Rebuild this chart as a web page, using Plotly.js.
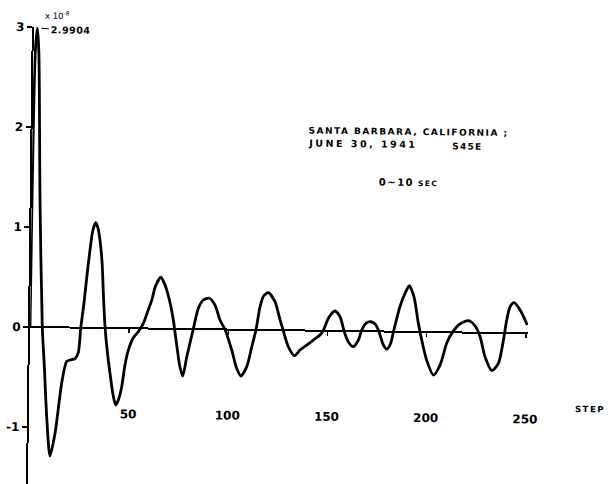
<!DOCTYPE html>
<html>
<head>
<meta charset="utf-8">
<script src="https://cdn.plot.ly/plotly-3.0.1.min.js"></script>
<style>
  html, body { margin: 0; padding: 0; background: #fff; overflow: hidden; }
  /* the drafted sheet sits a little off square */
  #chart { width: 608px; height: 484px; transform-origin: 30px 327px; transform: rotate(0.73deg); }
</style>
</head>
<body>
<div id="chart"></div>
<script>
// Response amplitude (x 10^-8) against step number, Santa Barbara record S45E, 0~10 sec
const steps = [
  0, 0.9, 1.8, 2.7, 4.2, 6.2, 7.5, 9.0, 10.9,
  13.3, 16.3, 18.7, 20.4, 22.9, 24.5, 25.6, 27.05, 28.4, 29.75, 31.1, 32.5,
  33.6, 34.7, 35.9, 36.8, 37.8, 39.2, 40.6, 42.3, 43.7, 45.0, 46.6, 48.1,
  49.7, 52.1, 54.6, 57.1, 59.1, 61.2, 63.0, 65.6, 67.8, 69.4, 70.7, 72.2,
  73.9, 75.8, 77.3, 79.2, 82.3, 84.7, 87.2, 90.2, 93.1, 95.7, 98.3, 101.8,
  104.4, 106.6, 109.5, 111.9, 113.9, 115.8, 117.5, 119.9, 123.3, 126.0,
  127.7, 130.3, 133.4, 136.2, 139.6, 142.9, 146.2, 147.7, 150.6, 153.6,
  156.2, 158.4, 160.5, 163.0, 165.6, 167.2, 169.3, 171.7, 173.9, 175.6,
  178.2, 180.0, 181.9, 183.2, 186.3, 188.8, 190.9, 193.3, 195.7, 197.5,
  200.1, 203.6, 206.9, 210.1, 212.6, 216.7, 220.9, 224.3, 226.9, 229.5,
  233.0, 236.3, 238.7, 240.2, 241.8, 243.8, 246.9, 250.6
];
const amplitude = [
  0, 2.75, 2.9904, 2.75, 1.3, 0.0, -0.40, -0.90, -1.287,
  -1.06, -0.56, -0.34, -0.325, -0.31, -0.25, 0.0, 0.247, 0.527, 0.778, 0.978, 1.051,
  0.999, 0.879, 0.659, 0.329, 0.013, -0.25, -0.45, -0.67, -0.77, -0.719, -0.585, -0.368,
  -0.218, -0.097, -0.033, 0.051, 0.165, 0.285, 0.426, 0.514, 0.437, 0.338, 0.238, 0.088,
  -0.141, -0.378, -0.47, -0.277, 0.0, 0.208, 0.292, 0.31, 0.243, 0.094, 0.0, -0.204,
  -0.387, -0.463, -0.369, -0.169, 0.0, 0.232, 0.34, 0.373, 0.284, 0.102,
  -0.005, -0.164, -0.253, -0.196, -0.145, -0.094, -0.043, -0.003, 0.135, 0.199,
  0.142, -0.007, -0.107, -0.156, -0.088, 0.012, 0.08, 0.096, 0.074, 0.014,
  -0.135, -0.175, -0.117, -0.001, 0.25, 0.385, 0.461, 0.352, 0.086, -0.08,
  -0.28, -0.429, -0.328, -0.11, -0.01, 0.085, 0.119, 0.067, -0.04, -0.239,
  -0.378, -0.304, -0.07, 0.13, 0.264, 0.305, 0.232, 0.083
];

const peakStep = 1.8;
const peakValue = 2.9904;

const xTickVals = [50, 100, 150, 200, 250];
const xTickText = ['50', '100', '150', '200', '250'];
const yTickVals = [-1, 0, 1, 2, 3];
const yTickText = ['-1', '0', '1', '2', '3'];

const stationLine = 'SANTA BARBARA, CALIFORNIA ;';
const dateLine = 'JUNE 30, 1941';
const componentLabel = 'S45E';
const windowLabel = '0~10';
const windowUnit = 'SEC';
const scaleLabel = 'x 10<sup>-8</sup>';
const xAxisLabel = 'STEP';

const FONT = 'DejaVu Sans, Liberation Sans, sans-serif';
const INK = '#000';

const yMin = -1.57, yMax = 3.0;
const xMax = 251;

const trace = {
  x: steps,
  y: amplitude,
  type: 'scatter',
  mode: 'lines',
  line: { color: INK, width: 2.8, shape: 'spline', smoothing: 0.7 },
  hoverinfo: 'skip',
  cliponaxis: false
};

// empty companion trace so the tick-only axis along the zero line gets drawn
const tickCarrier = {
  x: [], y: [], type: 'scatter', mode: 'lines',
  xaxis: 'x2', yaxis: 'y', hoverinfo: 'skip', showlegend: false
};

const layout = {
  width: 608,
  height: 484,
  margin: { l: 30, r: 80, t: 27, b: 0 },
  paper_bgcolor: '#fff',
  plot_bgcolor: '#fff',
  showlegend: false,
  xaxis: {
    range: [0, xMax],
    anchor: 'free',
    position: 0.175,
    showline: false,
    ticks: '',
    tickvals: xTickVals,
    ticktext: xTickText,
    tickfont: { family: FONT, size: 12, color: INK, weight: 'bold' },
    showgrid: false,
    zeroline: false,
    fixedrange: true
  },
  xaxis2: {
    range: [0, xMax],
    overlaying: 'x',
    anchor: 'free',
    position: (0 - yMin) / (yMax - yMin),
    side: 'bottom',
    ticks: 'outside',
    ticklen: 4,
    tickwidth: 1.5,
    tickcolor: INK,
    tickvals: xTickVals,
    showticklabels: false,
    showline: false,
    showgrid: false,
    zeroline: false,
    fixedrange: true
  },
  yaxis: {
    range: [yMin, yMax],
    showline: true,
    linecolor: INK,
    linewidth: 2,
    ticks: 'outside',
    ticklen: 5,
    tickwidth: 1.5,
    tickcolor: INK,
    tickvals: yTickVals,
    ticktext: yTickText,
    tickfont: { family: FONT, size: 12, color: INK, weight: 'bold' },
    showgrid: false,
    zeroline: true,
    zerolinecolor: INK,
    zerolinewidth: 2,
    fixedrange: true
  },
  annotations: [
    {
      x: 0.018, y: 1.0267, xref: 'paper', yref: 'paper',
      text: scaleLabel, showarrow: false, xanchor: 'left', yanchor: 'middle',
      font: { family: FONT, size: 8.5, color: INK }
    },
    {
      x: peakStep, y: peakValue, xref: 'x', yref: 'y',
      text: '<span style="letter-spacing:0.5px">2.9904</span>',
      showarrow: true, arrowhead: 0, arrowwidth: 1, arrowcolor: INK,
      ax: 33, ay: 2, standoff: 4,
      font: { family: FONT, size: 9.5, color: INK, weight: 'bold' }
    },
    {
      x: 138, y: 2.0, xref: 'x', yref: 'y',
      text: '<span style="letter-spacing:1.5px">' + stationLine + '</span>',
      showarrow: false, xanchor: 'left', yanchor: 'middle',
      font: { family: FONT, size: 9, color: INK, weight: 'bold' }
    },
    {
      x: 138, y: 1.88, xref: 'x', yref: 'y',
      text: '<span style="letter-spacing:2.5px">' + dateLine + '</span>',
      showarrow: false, xanchor: 'left', yanchor: 'middle',
      font: { family: FONT, size: 9.5, color: INK, weight: 'bold' }
    },
    {
      x: 210.5, y: 1.86, xref: 'x', yref: 'y',
      text: '<span style="letter-spacing:1.2px">' + componentLabel + '</span>',
      showarrow: false, xanchor: 'left', yanchor: 'middle',
      font: { family: FONT, size: 9, color: INK, weight: 'bold' }
    },
    {
      x: 173.9, y: 1.5, xref: 'x', yref: 'y',
      text: '<span style="letter-spacing:1.5px">' + windowLabel + '</span>' +
            '<span style="font-size:7.5px;letter-spacing:1.3px"> ' + windowUnit + '</span>',
      showarrow: false, xanchor: 'left', yanchor: 'middle',
      font: { family: FONT, size: 10, color: INK, weight: 'bold' }
    },
    {
      x: 1.1265, y: 0.1786, xref: 'paper', yref: 'paper',
      text: '<span style="letter-spacing:1.5px">' + xAxisLabel + '</span>',
      showarrow: false, xanchor: 'center', yanchor: 'middle',
      font: { family: FONT, size: 8.5, color: INK, weight: 'bold' }
    }
  ]
};

Plotly.newPlot('chart', [trace, tickCarrier], layout, { staticPlot: true, displayModeBar: false });
</script>
</body>
</html>
